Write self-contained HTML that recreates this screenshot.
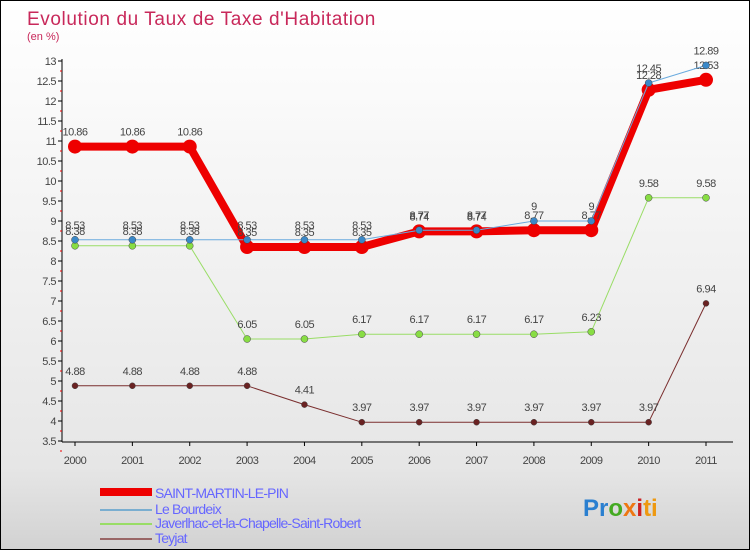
<!DOCTYPE html>
<html><head><meta charset="utf-8"><style>
html,body{margin:0;padding:0}
body{width:750px;height:550px;overflow:hidden;font-family:"Liberation Sans",sans-serif}
#wrap{position:relative;width:748px;height:548px;border:1px solid #000;background:linear-gradient(#fff,#e6e6e6 85%,#d2d2d2)}
</style></head><body>
<div id="wrap">
<svg id="svg" width="748" height="548" xmlns="http://www.w3.org/2000/svg">
<text x="26" y="24" font-size="19" fill="#c8285a" letter-spacing="0.6">Evolution du Taux de Taxe d'Habitation</text>
<text x="26" y="39" font-size="11" fill="#c8285a">(en %)</text>
<g id="axes"></g><g id="series"></g>
<g font-size="14" fill="#6666ff" letter-spacing="-0.8">
<rect x="99" y="487" width="52" height="8" fill="#e00"/>
<text x="154" y="497">SAINT-MARTIN-LE-PIN</text>
<rect x="99" y="508" width="52" height="2" fill="#7aaed0"/>
<text x="154" y="513">Le Bourdeix</text>
<rect x="99" y="522" width="52" height="2" fill="#99dd66"/>
<text x="154" y="527">Javerlhac-et-la-Chapelle-Saint-Robert</text>
<rect x="99" y="537" width="52" height="2" fill="#996666"/>
<text x="154" y="542">Teyjat</text>
</g>
<text x="582" y="515" font-size="24" font-weight="bold"><tspan fill="#2a7fd0">Pr</tspan><tspan fill="#44aa22">o</tspan><tspan fill="#ee7711">x</tspan><tspan fill="#cc2222">i</tspan><tspan fill="#ee9911">ti</tspan></text>
</svg></div>
<script>
const years=[2000,2001,2002,2003,2004,2005,2006,2007,2008,2009,2010,2011];
const stMartin=[10.86,10.86,10.86,8.35,8.35,8.35,8.74,8.74,8.77,8.77,12.28,12.53];
const bourdeix=[8.53,8.53,8.53,8.53,8.53,8.53,8.77,8.77,9,9,12.45,12.89];
const javerlhac=[8.38,8.38,8.38,6.05,6.05,6.17,6.17,6.17,6.17,6.23,9.58,9.58];
const teyjat=[4.88,4.88,4.88,4.88,4.41,3.97,3.97,3.97,3.97,3.97,3.97,6.94];
const yTicks=[3.5,4,4.5,5,5.5,6,6.5,7,7.5,8,8.5,9,9.5,10,10.5,11,11.5,12,12.5,13];
const NS="http://www.w3.org/2000/svg";
const X=i=>74+i*(631/11);
const Y=v=>60+(13-v)*40;
function mk(t,a,p){const e=document.createElementNS(NS,t);for(const k in a)e.setAttribute(k,a[k]);p.appendChild(e);return e;}
const ax=document.getElementById('axes');
const yl=mk('line',{x1:61,y1:58,x2:61,y2:441,stroke:'#000'},ax);

const xl=mk('line',{x1:61,y1:441,x2:732,y2:441,stroke:'#000'},ax);

yTicks.forEach(v=>{
 mk('line',{x1:57,y1:Y(v),x2:61,y2:Y(v),stroke:'#000'},ax);
 mk('line',{x1:59,y1:Y(v)+10,x2:61,y2:Y(v)+10,stroke:'#e00'},ax);
 const t=mk('text',{x:55,y:Y(v)+4,'font-size':11,fill:'#444','text-anchor':'end','letter-spacing':'-0.5'},ax);
 t.textContent=String(v);
 
 
});
years.forEach((yr,i)=>{
 mk('line',{x1:X(i),y1:441,x2:X(i),y2:445,stroke:'#000'},ax);
 const t=mk('text',{x:X(i),y:463,'font-size':11,fill:'#444','text-anchor':'middle','letter-spacing':'-0.5'},ax);
 t.textContent=String(yr);
 
 
});
const sg=document.getElementById('series');
function series(vals,name,color,w,r,dot,labDy){
 const g=mk('g',{},sg);
 
 
 mk('polyline',{points:vals.map((v,i)=>X(i)+','+Y(v)).join(' '),fill:'none',stroke:color,'stroke-width':w,'stroke-linejoin':'round'},g);
 vals.forEach((v,i)=>{
  const c=mk('circle',{cx:X(i),cy:Y(v),r:r,fill:dot,stroke:'#444','stroke-width':r>5?0:0.5},g);
  
  
  const t=mk('text',{x:X(i),y:Y(v)+labDy,'font-size':11,fill:'#444','text-anchor':'middle','letter-spacing':'-0.5'},g);
  t.textContent=String(v);
  
  
 });
}
series(teyjat,'series-teyjat','#7a2e2e',1,3,'#6a2222',-11);
series(javerlhac,'series-javerlhac','#99dd66',1,3.5,'#88dd44',-11);
series(stMartin,'series-saint-martin','#ee0000',8,7,'#ee0000',-11);
series(bourdeix,'series-le-bourdeix','#6aaade',1,3.5,'#3a88c8',-11);
</script>
</body></html>
